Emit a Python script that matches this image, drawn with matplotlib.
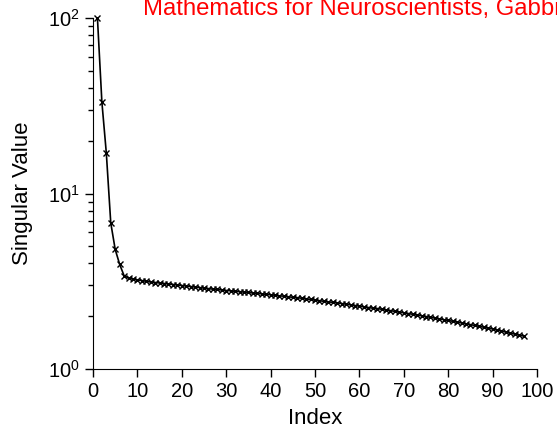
import numpy as np
import matplotlib
matplotlib.use("Agg")
import matplotlib.pyplot as plt

plt.rcParams['font.family'] = ['Liberation Sans', 'DejaVu Sans']

# singular values, index 1..97
singular_values = [
	100.0, 33.2, 17.0, 6.8, 4.8, 3.95, 3.4, 3.3, 3.25, 3.22,
	3.19, 3.16, 3.13, 3.11, 3.09, 3.07, 3.05, 3.03, 3.01, 2.99,
	2.97, 2.95, 2.93, 2.91, 2.89, 2.87, 2.85, 2.84, 2.82, 2.80,
	2.79, 2.77, 2.76, 2.74, 2.73, 2.71, 2.70, 2.68, 2.66, 2.65,
	2.63, 2.61, 2.60, 2.58, 2.56, 2.55, 2.53, 2.51, 2.49, 2.47,
	2.45, 2.43, 2.41, 2.40, 2.38, 2.36, 2.34, 2.32, 2.30, 2.28,
	2.26, 2.24, 2.22, 2.21, 2.19, 2.17, 2.15, 2.13, 2.11, 2.09,
	2.07, 2.05, 2.03, 2.01, 1.99, 1.97, 1.95, 1.93, 1.91, 1.89,
	1.87, 1.85, 1.83, 1.81, 1.79, 1.77, 1.75, 1.73, 1.71, 1.69,
	1.67, 1.65, 1.62, 1.60, 1.58, 1.56, 1.54,
]
index = list(range(1, len(singular_values) + 1))
x_ticks = [0, 10, 20, 30, 40, 50, 60, 70, 80, 90, 100]

fig = plt.figure(figsize=(5.57, 4.33), dpi=100)
ax = fig.add_axes([93 / 557, 64 / 433, 444 / 557, 351 / 433])

ax.semilogy(index, singular_values, color="black", lw=1.2, marker="x", ms=4, mew=1.0,
	clip_on=False)

ax.set_xlim(0, 100)
ax.set_ylim(1, 100)
ax.set_xticks(x_ticks)
ax.spines["top"].set_visible(False)
ax.spines["right"].set_visible(False)
ax.tick_params(axis="both", which="major", labelsize=14.5, length=6, width=1, direction="out")
ax.tick_params(axis="y", which="minor", length=3.5, width=1)
ax.set_xlabel("Index", fontsize=16, labelpad=5)
ax.set_ylabel("Singular Value", fontsize=16, labelpad=11)

fig.text(143 / 557, 1 - 15 / 433, "Mathematics for Neuroscientists, Gabbiani & Cox",
	color="red", fontsize=17.2, ha="left", va="baseline")

fig.savefig("out.png", dpi=100)
